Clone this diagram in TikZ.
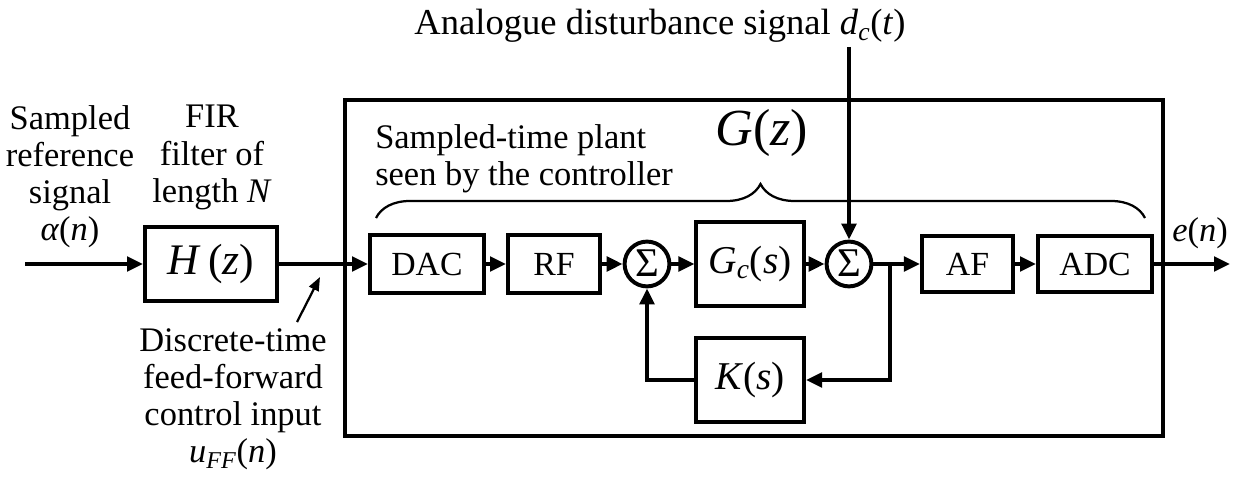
\documentclass[tikz,border=0pt]{standalone}
\usepackage{fontspec}
\setmainfont{Liberation Serif}
\usepackage{tikz}
\usetikzlibrary{arrows.meta,decorations.pathreplacing}
\definecolor{figline}{RGB}{0,0,0}
\newcommand{\mv}[1]{\textit{#1}}
\tikzset{
  blk/.style  ={draw=figline, line width=2.8pt, inner sep=0pt, font=\fontsize{24}{27}\selectfont},
  blkm/.style ={blk, font=\fontsize{28}{30}\selectfont},
  sum/.style  ={draw=figline, circle, line width=2.8pt, minimum size=1.12cm, inner sep=0pt, font=\fontsize{29}{30}\selectfont},
  sig/.style  ={draw=figline, line width=2.8pt, -{Triangle[length=0.4cm,width=0.36cm]}},
  ptr/.style  ={draw=figline, line width=1.6pt, -{Triangle[length=0.34cm,width=0.26cm]}},
  lab/.style  ={font=\fontsize{24.5}{26.5}\selectfont, align=center, inner sep=0pt},
}

\begin{document}
\begin{tikzpicture}[x=0.025cm,y=0.025cm]
  \useasboundingbox (0,0) rectangle (1233,486);
  \draw[figline, line width=2.8pt] (345,50) rectangle (1163,386);
  \coordinate (in) at (25,222);
  \coordinate (out) at (1230,222);
  \coordinate (br) at (890,222);
  \coordinate (dist) at (849,439);
  \coordinate (ffp) at (297,164);
  \coordinate (ffq) at (320,209);
  \node[blk, font=\fontsize{31}{32}\selectfont, minimum width=3.3cm, minimum height=1.85cm] (hz) at (211,222) {\mv{H}\,(\mv{z})};
  \node[blk, minimum width=2.85cm, minimum height=1.43cm] (dac) at (427,222) {DAC};
  \node[blk, minimum width=2.3cm, minimum height=1.43cm] (rf) at (554,222) {RF};
  \node[sum] (sum1) at (647,222) {\raisebox{0.04em}{Σ}};
  \node[blkm, minimum width=2.68cm, minimum height=2.1cm] (gc) at (750,222) {\mv{G}\textsubscript{\mv{c}}(\mv{s})};
  \node[sum] (sum2) at (849,222) {\raisebox{0.04em}{Σ}};
  \node[blk, minimum width=2.28cm, minimum height=1.38cm] (af) at (967.5,222) {AF};
  \node[blk, minimum width=2.85cm, minimum height=1.38cm] (adc) at (1095,222) {ADC};
  \node[blkm, minimum width=2.7cm, minimum height=2.1cm] (k) at (750,106) {\mv{K}(\mv{s})};
  \draw[sig] (in) -- (hz);
  \draw[sig] (hz) -- (dac);
  \draw[sig] (dac) -- (rf);
  \draw[sig] (rf) -- (sum1);
  \draw[sig] (sum1) -- (gc);
  \draw[sig] (gc) -- (sum2);
  \draw[sig] (sum2) -- (af);
  \draw[sig] (af) -- (adc);
  \draw[sig] (adc) -- (out);
  \draw[sig] (br) |- (k);
  \draw[sig] (k) -| (sum1);
  \draw[sig] (dist) -- (sum2);
  \draw[ptr] (ffp) -- (ffq);
  \draw[figline, line width=1.6pt, decorate, decoration={brace, amplitude=0.85cm}] (376,268) -- (1145,268);
  \node[lab, anchor=base, font=\fontsize{26}{28}\selectfont] (dlab) at (660,451) {Analogue disturbance signal \mv{d}\textsubscript{\mv{c}}(\mv{t})};
  \node[lab, anchor=north] (reflab) at (70,381) {Sampled\\reference\\signal\\\mv{α}(\mv{n})};
  \node[lab, anchor=north] (firlab) at (212,381) {FIR\\filter of\\length \mv{N}};
  \node[lab, anchor=north] (fflab) at (233,158) {Discrete-time\\feed-forward\\control input\\\mv{u}\textsubscript{\mv{FF}}(\mv{n})};
  \node[lab, anchor=north west, align=left] (plantlab) at (375,362) {Sampled-time plant\\seen by the controller};
  \node[lab, font=\fontsize{37}{38}\selectfont] (gzlab) at (762,353) {\mv{G}(\mv{z})};
  \node[lab] (elab) at (1200,253) {\mv{e}(\mv{n})};
\end{tikzpicture}
\end{document}
